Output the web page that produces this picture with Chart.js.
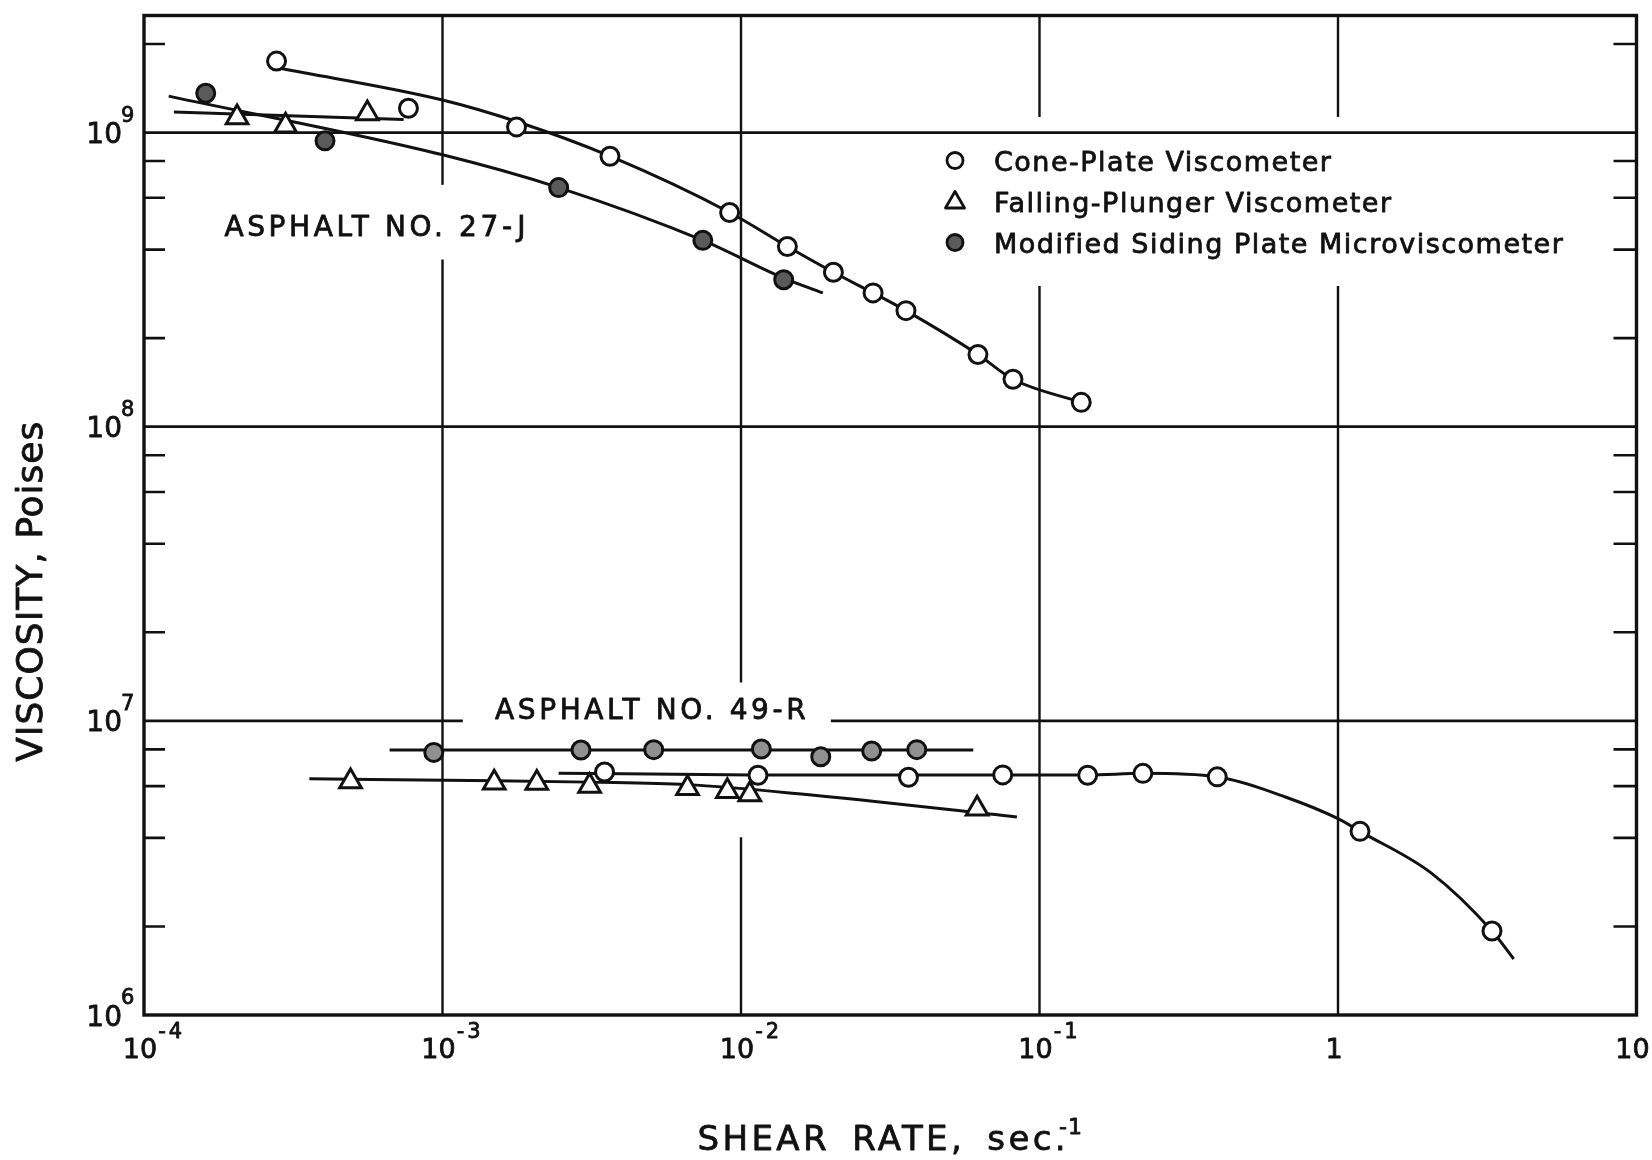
<!DOCTYPE html>
<html>
<head>
<meta charset="utf-8">
<title>Viscosity vs shear rate</title>
<script src="https://cdn.jsdelivr.net/npm/chart.js@4.4.1/dist/chart.umd.min.js"></script>
<style>
  html, body { margin: 0; padding: 0; background: #fff; }
  canvas { display: block; }
</style>
</head>
<body>
<canvas id="chart" width="1652" height="1160"></canvas>
<script>
// measured points (shear rate sec^-1, viscosity poises)
const cone27X = [2.78e-4, 7.69e-4, 1.77e-3, 3.64e-3, 9.16e-3, 1.43e-2, 2.04e-2, 2.77e-2, 3.57e-2, 6.22e-2, 8.15e-2, 0.138];
const cone27Y = [1.75e9, 1.21e9, 1.045e9, 8.31e8, 5.35e8, 4.1e8, 3.35e8, 2.85e8, 2.48e8, 1.76e8, 1.45e8, 1.21e8];
const plunger27X = [2.05e-4, 2.98e-4, 5.6e-4];
const plunger27Y = [1.125e9, 1.054e9, 1.16e9];
const micro27X = [1.61e-4, 4.04e-4, 2.45e-3, 7.45e-3, 1.39e-2];
const micro27Y = [1.36e9, 9.37e8, 6.5e8, 4.3e8, 3.16e8];

const cone49X = [3.49e-3, 1.14e-2, 3.64e-2, 7.53e-2, 0.145, 0.222, 0.394, 1.185, 3.28];
const cone49Y = [6.7e6, 6.53e6, 6.43e6, 6.55e6, 6.53e6, 6.63e6, 6.45e6, 4.21e6, 1.93e6];
const plunger49X = [4.92e-4, 1.49e-3, 2.07e-3, 3.11e-3, 6.62e-3, 9.0e-3, 1.07e-2, 6.18e-2];
const plunger49Y = [6.22e6, 6.16e6, 6.15e6, 6.0e6, 5.9e6, 5.76e6, 5.62e6, 5.03e6];
const micro49X = [9.35e-4, 2.91e-3, 5.1e-3, 1.17e-2, 1.85e-2, 2.74e-2, 3.88e-2];
const micro49Y = [7.81e6, 7.96e6, 7.98e6, 8.02e6, 7.55e6, 7.9e6, 7.98e6];

// hand-drawn fitted curves
const cone27CurveX = [2.89e-4, 1.0e-3, 1.77e-3, 3.64e-3, 9.16e-3, 1.43e-2, 2.04e-2, 2.77e-2, 3.57e-2, 6.22e-2, 8.15e-2, 0.138];
const cone27CurveY = [1.65e9, 1.29e9, 1.09e9, 8.31e8, 5.35e8, 4.1e8, 3.35e8, 2.85e8, 2.48e8, 1.76e8, 1.45e8, 1.21e8];
const plunger27CurveX = [1.26e-4, 7.41e-4];
const plunger27CurveY = [1.175e9, 1.107e9];
const micro27CurveX = [1.21e-4, 1.0e-3, 2.45e-3, 7.45e-3, 1.39e-2, 1.88e-2];
const micro27CurveY = [1.33e9, 8.4e8, 6.5e8, 4.3e8, 3.2e8, 2.85e8];

const cone49CurveX = [2.45e-3, 1.1e-2, 0.145, 0.222, 0.394, 0.67, 1.0, 1.185, 2.06, 3.28, 3.88];
const cone49CurveY = [6.64e6, 6.55e6, 6.55e6, 6.63e6, 6.45e6, 5.5e6, 4.65e6, 4.21e6, 3.03e6, 1.93e6, 1.55e6];
const plunger49CurveX = [3.58e-4, 1.5e-3, 3.1e-3, 6.6e-3, 1.56e-2, 8.4e-2];
const plunger49CurveY = [6.35e6, 6.26e6, 6.19e6, 6.07e6, 5.65e6, 4.71e6];
const micro49CurveX = [6.65e-4, 6.0e-2];
const micro49CurveY = [7.96e6, 7.96e6];

// axes
const xTickValues = [1e-4, 1e-3, 1e-2, 1e-1, 1, 10];
const xTickBase = ["10", "10", "10", "10", "1", "10"];
const xTickExp = ["-4", "-3", "-2", "-1", "", ""];
const yTickValues = [1e6, 1e7, 1e8, 1e9];
const yTickExp = ["6", "7", "8", "9"];
const yMinorTicks = [2e6, 4e6, 6e6, 8e6, 2e7, 4e7, 6e7, 8e7, 2e8, 4e8, 6e8, 8e8, 2e9];

const legendLabels = ["Cone-Plate Viscometer", "Falling-Plunger Viscometer", "Modified Siding Plate Microviscometer"];
const notes = [
  { text: "ASPHALT NO. 27-J", x: 1.86e-4, y: 4.44e8 },
  { text: "ASPHALT NO. 49-R", x: 1.5e-3, y: 1.016e7 }
];

// breaks in the drafted grid lines (value ranges on the other axis)
const gridGaps = [
  { axis: "x", at: 1e-3, from: 3.7e8, to: 6.64e8 },
  { axis: "x", at: 1e-2, from: 4.02e6, to: 1.35e7 },
  { axis: "x", at: 1e-1, from: 3.01e8, to: 1.13e9 },
  { axis: "x", at: 1, from: 3.01e8, to: 1.13e9 },
  { axis: "y", at: 1e7, from: 1.17e-3, to: 2.0e-2 }
];

const ink = "#111";
const font = '"DejaVu Sans", sans-serif';

function pts(xs, ys) {
  return xs.map((x, i) => ({ x, y: ys[i] }));
}

function marks(label, xs, ys, style, fill, r) {
  return {
    label,
    data: pts(xs, ys),
    showLine: false,
    order: 1,
    pointStyle: style,
    pointRadius: r,
    pointBackgroundColor: fill,
    pointBorderColor: ink,
    pointBorderWidth: 3
  };
}

function curve(xs, ys) {
  return {
    data: pts(xs, ys),
    showLine: true,
    order: 2,
    pointRadius: 0,
    borderColor: ink,
    borderWidth: 3,
    cubicInterpolationMode: "monotone",
    fill: false
  };
}

function brokenLine(ctx, horiz, fixed, start, end, cuts) {
  let pos = start;
  cuts.sort((p, q) => p[0] - q[0]).concat([[end, end]]).forEach(([a, b]) => {
    if (a > pos) {
      ctx.beginPath();
      if (horiz) { ctx.moveTo(pos, fixed); ctx.lineTo(a, fixed); }
      else { ctx.moveTo(fixed, pos); ctx.lineTo(fixed, a); }
      ctx.stroke();
    }
    pos = Math.max(pos, b);
  });
}

// pen-lettering look: fill plus a thin outline
function letter(ctx, text, x, y) {
  ctx.fillText(text, x, y);
  ctx.strokeText(text, x, y);
}

function circleMark(ctx, x, y, r, fill) {
  ctx.beginPath();
  ctx.arc(x, y, r, 0, Math.PI * 2);
  ctx.fillStyle = fill;
  ctx.fill();
  ctx.stroke();
}

function triangleMark(ctx, x, y, r) {
  ctx.beginPath();
  for (let k = 0; k < 3; k++) {
    const a = k * 2 * Math.PI / 3;
    const px = x + Math.sin(a) * r, py = y - Math.cos(a) * r;
    k ? ctx.lineTo(px, py) : ctx.moveTo(px, py);
  }
  ctx.closePath();
  ctx.fillStyle = "#fff";
  ctx.fill();
  ctx.stroke();
}

const drafting = {
  id: "drafting",
  beforeDatasetsDraw(chart) {
    const { ctx, chartArea: a, scales: { x, y } } = chart;
    ctx.save();
    ctx.strokeStyle = ink;
    ctx.lineWidth = 2.4;
    xTickValues.slice(1, -1).forEach(v => {
      const cuts = gridGaps.filter(g => g.axis === "x" && g.at === v)
        .map(g => [y.getPixelForValue(g.to), y.getPixelForValue(g.from)]);
      brokenLine(ctx, false, x.getPixelForValue(v), a.top, a.bottom, cuts);
    });
    ctx.lineWidth = 2.8;
    yTickValues.slice(1).forEach(v => {
      const cuts = gridGaps.filter(g => g.axis === "y" && g.at === v)
        .map(g => [x.getPixelForValue(g.from), x.getPixelForValue(g.to)]);
      brokenLine(ctx, true, y.getPixelForValue(v), a.left, a.right, cuts);
    });
    // inward minor ticks on both sides
    ctx.lineWidth = 2.6;
    yMinorTicks.forEach(v => {
      const py = y.getPixelForValue(v);
      ctx.beginPath();
      ctx.moveTo(a.left, py); ctx.lineTo(a.left + 21, py);
      ctx.moveTo(a.right - 23, py); ctx.lineTo(a.right, py);
      ctx.stroke();
    });
    ctx.lineWidth = 3.4;
    ctx.strokeRect(a.left, a.top, a.right - a.left, a.bottom - a.top);
    ctx.restore();
  },
  afterDraw(chart) {
    const { ctx, chartArea: a, scales: { x, y } } = chart;
    ctx.save();
    ctx.fillStyle = ink;
    ctx.strokeStyle = ink;
    ctx.lineWidth = 0.8;
    ctx.lineJoin = "round";
    ctx.textBaseline = "alphabetic";

    // tick labels with superscript exponents
    xTickValues.forEach((v, i) => {
      const px = x.getPixelForValue(v) - 4;
      ctx.font = "27px " + font;
      ctx.textAlign = "center";
      const w = ctx.measureText(xTickBase[i]).width;
      letter(ctx, xTickBase[i], px, a.bottom + 43);
      if (xTickExp[i]) {
        ctx.font = "21px " + font;
        ctx.textAlign = "left";
        ctx.letterSpacing = "3px";
        letter(ctx, xTickExp[i], px + w / 2 + 1, a.bottom + 23);
        ctx.letterSpacing = "0px";
      }
    });
    yTickValues.forEach((v, i) => {
      const py = y.getPixelForValue(v);
      ctx.font = "28px " + font;
      ctx.textAlign = "right";
      letter(ctx, "10", a.left - 22, py + 10.5);
      ctx.font = "21px " + font;
      ctx.textAlign = "left";
      letter(ctx, yTickExp[i], a.left - 23, py - 11);
    });

    // axis titles
    ctx.textAlign = "left";
    ctx.font = "34px " + font;
    ctx.letterSpacing = "3.4px";
    ctx.wordSpacing = "8px";
    const main = "SHEAR RATE, sec.";
    const w1 = ctx.measureText(main).width;
    ctx.font = "22px " + font;
    ctx.letterSpacing = "1px";
    ctx.wordSpacing = "0px";
    const w2 = ctx.measureText("-1").width;
    const left = (a.left + a.right) / 2 - (w1 + w2 - 10) / 2;
    ctx.font = "34px " + font;
    ctx.letterSpacing = "3.4px";
    ctx.wordSpacing = "8px";
    letter(ctx, main, left, 1150);
    ctx.font = "22px " + font;
    ctx.letterSpacing = "1px";
    ctx.wordSpacing = "0px";
    letter(ctx, "-1", left + w1 - 10, 1134);

    ctx.save();
    ctx.translate(33, (a.top + a.bottom) / 2 + 76);
    ctx.rotate(-Math.PI / 2);
    ctx.font = "36px " + font;
    ctx.letterSpacing = "1px";
    ctx.textAlign = "center";
    ctx.textBaseline = "middle";
    letter(ctx, "VISCOSITY, Poises", 0, 0);
    ctx.restore();

    // asphalt labels
    ctx.font = "28px " + font;
    ctx.letterSpacing = "3.6px";
    ctx.textAlign = "left";
    notes.forEach(n => letter(ctx, n.text, x.getPixelForValue(n.x), y.getPixelForValue(n.y)));

    // legend
    const lx = a.left + 811, ly = a.top + 145, step = 41;
    ctx.lineWidth = 2.8;
    circleMark(ctx, lx, ly, 8, "#fff");
    triangleMark(ctx, lx, ly + step + 1, 11);
    circleMark(ctx, lx, ly + 2 * step, 8, "#5a5a5a");
    ctx.fillStyle = ink;
    ctx.lineWidth = 0.8;
    ctx.font = "27px " + font;
    ctx.letterSpacing = "1.5px";
    legendLabels.forEach((t, i) => letter(ctx, t, lx + 39, ly + i * step + 10));
    ctx.restore();
  }
};

new Chart(document.getElementById("chart"), {
  type: "scatter",
  data: {
    datasets: [
      marks("Cone-Plate 27-J", cone27X, cone27Y, "circle", "#fff", 9),
      marks("Falling-Plunger 27-J", plunger27X, plunger27Y, "triangle", "#fff", 12.5),
      marks("Microviscometer 27-J", micro27X, micro27Y, "circle", "#5a5a5a", 9),
      marks("Cone-Plate 49-R", cone49X, cone49Y, "circle", "#fff", 9),
      marks("Falling-Plunger 49-R", plunger49X, plunger49Y, "triangle", "#fff", 12.5),
      marks("Microviscometer 49-R", micro49X, micro49Y, "circle", "#909090", 9),
      curve(cone27CurveX, cone27CurveY),
      curve(plunger27CurveX, plunger27CurveY),
      curve(micro27CurveX, micro27CurveY),
      curve(cone49CurveX, cone49CurveY),
      curve(plunger49CurveX, plunger49CurveY),
      curve(micro49CurveX, micro49CurveY)
    ]
  },
  options: {
    responsive: false,
    animation: false,
    events: [],
    layout: { padding: { left: 0, top: 12, right: 14, bottom: 0 } },
    plugins: {
      legend: { display: false },
      tooltip: { enabled: false }
    },
    scales: {
      x: {
        type: "logarithmic",
        min: 1e-4,
        max: 10,
        ticks: { display: false },
        grid: { display: false },
        border: { display: false },
        afterFit: (s) => { s.height = 145; }
      },
      y: {
        type: "logarithmic",
        min: 1e6,
        max: 2.5e9,
        ticks: { display: false },
        grid: { display: false },
        border: { display: false },
        afterFit: (s) => { s.width = 144; }
      }
    }
  },
  plugins: [drafting]
});
</script>
</body>
</html>
